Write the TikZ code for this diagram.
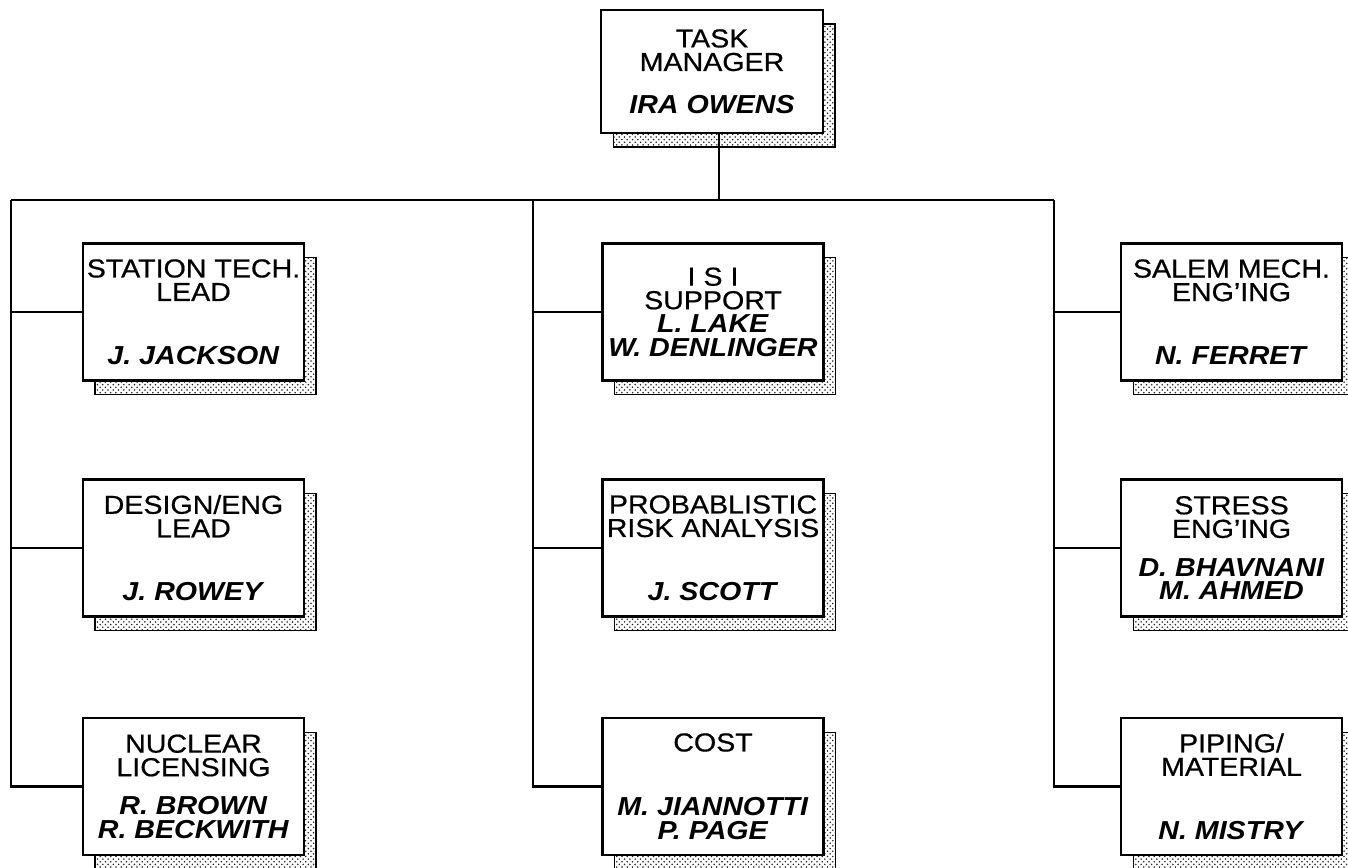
\documentclass[tikz,border=0pt]{standalone}
\usepackage{fontspec}
\setmainfont{Liberation Sans}[FakeStretch=1.1, UprightFeatures={FakeBold=0.6}]
\usetikzlibrary{patterns,shadows}
\newcommand{\who}[1]{\textbf{\textit{#1}}}

\begin{document}
\begin{tikzpicture}[x=0.02cm, y=-0.02cm, line width=1.2pt,
    unit/.style={rectangle, draw, fill=white, align=center, inner sep=0pt,
        minimum width=4.42cm, minimum height=2.74cm,
        font=\fontsize{14.8}{13.4}\selectfont,
        drop shadow={shadow xshift=0.24cm, shadow yshift=-0.28cm, opacity=1,
            draw=black, line width=0.6pt, pattern=crosshatch dots, pattern color=black!85}}]
    \useasboundingbox (0,0) rectangle (1348,867);
    \clip (0,0) rectangle (1348,867);

    \node[unit, minimum width=4.44cm, minimum height=2.46cm] (task) at (712,71.5) {TASK\\MANAGER\\[0.38cm]\who{IRA OWENS}};

    \node[unit] (station) at (193.5,312) {STATION TECH.\\LEAD\\[0.8cm]\who{J. JACKSON}};
    \node[unit] (design) at (193.5,548) {DESIGN/ENG\\LEAD\\[0.8cm]\who{J. ROWEY}};
    \node[unit] (nuclear) at (193.5,786.5) {NUCLEAR\\LICENSING\\[0.3cm]\who{R. BROWN}\\\who{R. BECKWITH}};

    \node[unit] (isi) at (713,312) {I S I\\SUPPORT\\\who{L. LAKE}\\\who{W. DENLINGER}};
    \node[unit] (risk) at (713,548) {PROBABLISTIC\\RISK ANALYSIS\\[0.8cm]\who{J. SCOTT}};
    \node[unit] (cost) at (713,786.5) {COST\\[0.82cm]\who{M. JIANNOTTI}\\\who{P. PAGE}};

    \node[unit] (salem) at (1231.5,312) {SALEM MECH.\\ENG'ING\\[0.8cm]\who{N. FERRET}};
    \node[unit] (stress) at (1231.5,548) {STRESS\\ENG'ING\\[0.3cm]\who{D. BHAVNANI}\\\who{M. AHMED}};
    \node[unit] (piping) at (1231.5,786.5) {PIPING/\\MATERIAL\\[0.8cm]\who{N. MISTRY}};

    \coordinate (busl) at (11,200);
    \coordinate (busm) at (533,200);
    \coordinate (busr) at (1054,200);
    \coordinate (bust) at (719,200);

    \draw (bust |- task.south) -- (bust);
    \draw (busl) -- (busr);

    \draw (busl) |- (nuclear.west);
    \draw (busl |- station.west) -- (station.west);
    \draw (busl |- design.west) -- (design.west);

    \draw (busm) |- (cost.west);
    \draw (busm |- isi.west) -- (isi.west);
    \draw (busm |- risk.west) -- (risk.west);

    \draw (busr) |- (piping.west);
    \draw (busr |- salem.west) -- (salem.west);
    \draw (busr |- stress.west) -- (stress.west);
\end{tikzpicture}
\end{document}
